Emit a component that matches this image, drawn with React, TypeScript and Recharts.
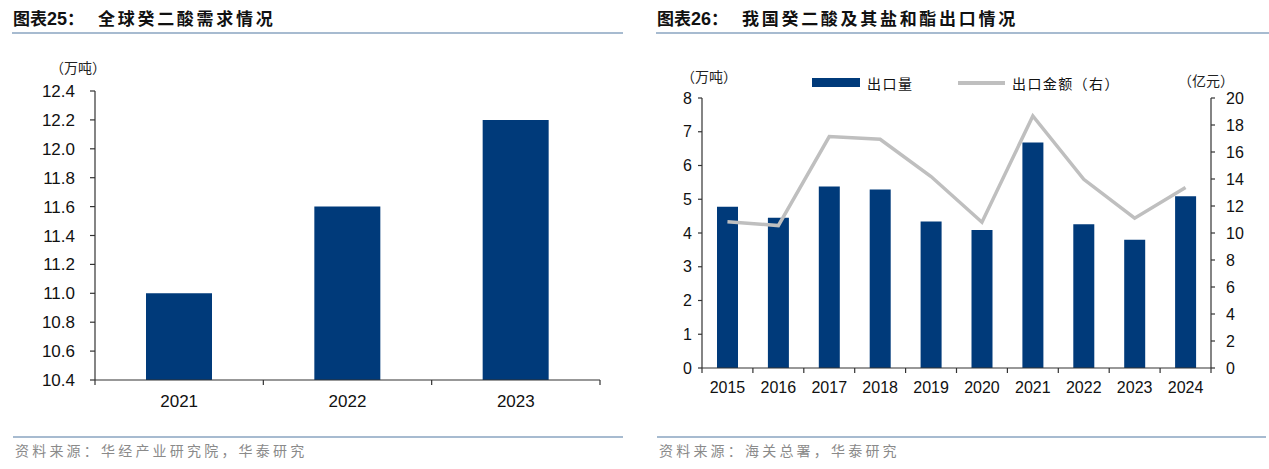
import React from 'react';
import {
  BarChart,
  Bar,
  ComposedChart,
  Line,
  XAxis,
  YAxis,
} from 'recharts';

// ---------- Data ----------
const demandYears = ['2021', '2022', '2023'];
const demandValues = [11.0, 11.6, 12.2];
const demandTicks = [10.4, 10.6, 10.8, 11.0, 11.2, 11.4, 11.6, 11.8, 12.0, 12.2, 12.4];

const exportYears = ['2015', '2016', '2017', '2018', '2019', '2020', '2021', '2022', '2023', '2024'];
const exportVolume = [4.78, 4.45, 5.38, 5.29, 4.34, 4.09, 6.68, 4.26, 3.8, 5.09];
const exportValue = [10.83, 10.55, 17.14, 16.94, 14.18, 10.8, 18.67, 13.98, 11.1, 13.37];
const volumeTicks = [0, 1, 2, 3, 4, 5, 6, 7, 8];
const valueTicks = [0, 2, 4, 6, 8, 10, 12, 14, 16, 18, 20];

const demandData = demandYears.map((year, i) => ({ year, demand: demandValues[i] }));
const exportData = exportYears.map((year, i) => ({
  year,
  volume: exportVolume[i],
  value: exportValue[i],
}));

// ---------- Styles ----------
const NAVY = '#003A7A';
const GREY_LINE = '#BFBFBF';
const RULE = '#A7BBD0';
const NUM_FONT = '"Liberation Sans", Arial, sans-serif';
const CJK_FONT = '"Noto Sans CJK SC", "Noto Sans", sans-serif';

function makeBoundaryTick(n: number, margin: number, fontSize: number, fallbackHalf: number) {
  return (props: any) => {
    const { x, y, payload, index } = props;
    const half = payload && typeof payload.offset === 'number' && payload.offset > 0 ? payload.offset : fallbackHalf;
    const axisY = y - margin;
    return (
      <g>
        <line x1={x - half} x2={x - half} y1={axisY} y2={axisY + 5} stroke="#333" strokeWidth={1.2} />
        {index === n - 1 && (
          <line x1={x + half} x2={x + half} y1={axisY} y2={axisY + 5} stroke="#333" strokeWidth={1.2} />
        )}
        <text
          x={x}
          y={y}
          dy="0.71em"
          textAnchor="middle"
          fill="#111"
          fontSize={fontSize}
          fontFamily={NUM_FONT}
        >
          {payload.value}
        </text>
      </g>
    );
  };
}

const abs = (style: React.CSSProperties): React.CSSProperties => ({ position: 'absolute', ...style });

function Title({ left, num, text }: { left: number; num: string; text: string }) {
  return (
    <div
      style={abs({
        left,
        top: 7,
        height: 22,
        lineHeight: '22px',
        fontFamily: CJK_FONT,
        fontWeight: 700,
        fontSize: 17,
        color: '#111',
        whiteSpace: 'nowrap',
      })}
    >
      <span>图表</span>
      <span style={{ fontFamily: NUM_FONT, fontWeight: 700, fontSize: 18 }}>{num}</span>
      <span>：</span>
      <span style={{ marginLeft: 14, letterSpacing: 2.7 }}>{text}</span>
    </div>
  );
}

function Footer({ left, width, text }: { left: number; width: number; text: string }) {
  return (
    <>
      <div style={abs({ left, top: 436, width, height: 2, background: RULE })} />
      <div
        style={abs({
          left: left + 2,
          top: 440,
          lineHeight: '20px',
          fontFamily: CJK_FONT,
          fontSize: 14,
          letterSpacing: 3.2,
          color: '#8A8A8A',
          whiteSpace: 'nowrap',
        })}
      >
        {text}
      </div>
    </>
  );
}

const unitStyle = (left: number, top: number): React.CSSProperties =>
  abs({
    left,
    top,
    lineHeight: '18px',
    fontFamily: CJK_FONT,
    fontSize: 14,
    color: '#222',
    whiteSpace: 'nowrap',
  });

export default function App() {
  return (
    <div
      style={abs({
        left: 0,
        top: 0,
        width: 1269,
        height: 469,
        background: '#fff',
        overflow: 'hidden',
      })}
    >
      {/* ---------- Left panel ---------- */}
      <Title left={13} num="25" text="全球癸二酸需求情况" />
      <div style={abs({ left: 12, top: 32, width: 611, height: 2, background: RULE })} />
      <div style={unitStyle(50, 58)}>（万吨）</div>
      <div style={abs({ left: 0, top: 0 })}>
        <BarChart
          width={640}
          height={469}
          data={demandData}
          margin={{ top: 91, right: 40, bottom: 59, left: 0 }}
        >
          <XAxis
            dataKey="year"
            height={30}
            axisLine={{ stroke: '#333', strokeWidth: 1.2 }}
            tickLine={false}
            tickSize={0}
            tickMargin={15}
            interval={0}
            tick={makeBoundaryTick(demandYears.length, 15, 17, 505 / 6)}
          />
          <YAxis
            width={95}
            domain={[10.4, 12.4]}
            ticks={demandTicks}
            interval={0}
            allowDataOverflow
            tickFormatter={(v: number) => v.toFixed(1)}
            axisLine={{ stroke: '#333', strokeWidth: 1.2 }}
            tickLine={{ stroke: '#333', strokeWidth: 1.2 }}
            tickSize={5}
            tickMargin={15}
            tick={{ fill: '#111', fontSize: 17, fontFamily: NUM_FONT }}
          />
          <Bar dataKey="demand" fill={NAVY} barSize={66} isAnimationActive={false} />
        </BarChart>
      </div>
      <Footer left={13} width={610} text="资料来源：华经产业研究院，华泰研究" />

      {/* ---------- Right panel ---------- */}
      <Title left={657} num="26" text="我国癸二酸及其盐和酯出口情况" />
      <div style={abs({ left: 656, top: 32, width: 613, height: 2, background: RULE })} />
      <div style={unitStyle(681, 67)}>（万吨）</div>
      <div style={unitStyle(1178, 71)}>（亿元）</div>

      {/* legend */}
      <div style={abs({ left: 812, top: 78, width: 48, height: 9, background: NAVY })} />
      <div
        style={abs({
          left: 867,
          top: 72,
          lineHeight: '22px',
          fontFamily: CJK_FONT,
          fontSize: 14,
          letterSpacing: 1.5,
          color: '#111',
          whiteSpace: 'nowrap',
        })}
      >
        出口量
      </div>
      <div style={abs({ left: 958, top: 81, width: 47, height: 3.5, background: GREY_LINE })} />
      <div
        style={abs({
          left: 1012,
          top: 72,
          lineHeight: '22px',
          fontFamily: CJK_FONT,
          fontSize: 14,
          letterSpacing: 1.4,
          color: '#111',
          whiteSpace: 'nowrap',
        })}
      >
        出口金额（右）
      </div>

      <div style={abs({ left: 640, top: 0 })}>
        <ComposedChart
          width={629}
          height={469}
          data={exportData}
          margin={{ top: 98, right: 0, bottom: 71, left: 0 }}
        >
          <XAxis
            dataKey="year"
            height={30}
            axisLine={{ stroke: '#333', strokeWidth: 1.2 }}
            tickLine={false}
            tickSize={0}
            tickMargin={14}
            interval={0}
            tick={makeBoundaryTick(exportYears.length, 14, 16, 509 / 20)}
          />
          <YAxis
            yAxisId="left"
            width={62}
            domain={[0, 8]}
            ticks={volumeTicks}
            interval={0}
            axisLine={{ stroke: '#333', strokeWidth: 1.2 }}
            tickLine={{ stroke: '#333', strokeWidth: 1.2 }}
            tickSize={4}
            tickMargin={6}
            tick={{ fill: '#111', fontSize: 16, fontFamily: NUM_FONT }}
          />
          <YAxis
            yAxisId="right"
            orientation="right"
            width={58}
            domain={[0, 20]}
            ticks={valueTicks}
            interval={0}
            axisLine={{ stroke: '#333', strokeWidth: 1.2 }}
            tickLine={{ stroke: '#333', strokeWidth: 1.2 }}
            tickSize={4}
            tickMargin={11}
            tick={{ fill: '#111', fontSize: 16, fontFamily: NUM_FONT }}
          />
          <Bar yAxisId="left" dataKey="volume" fill={NAVY} barSize={21} isAnimationActive={false} />
          <Line
            yAxisId="right"
            type="linear"
            dataKey="value"
            stroke={GREY_LINE}
            strokeWidth={3.5}
            dot={false}
            activeDot={false}
            isAnimationActive={false}
          />
        </ComposedChart>
      </div>
      <Footer left={657} width={609} text="资料来源：海关总署，华泰研究" />
    </div>
  );
}
